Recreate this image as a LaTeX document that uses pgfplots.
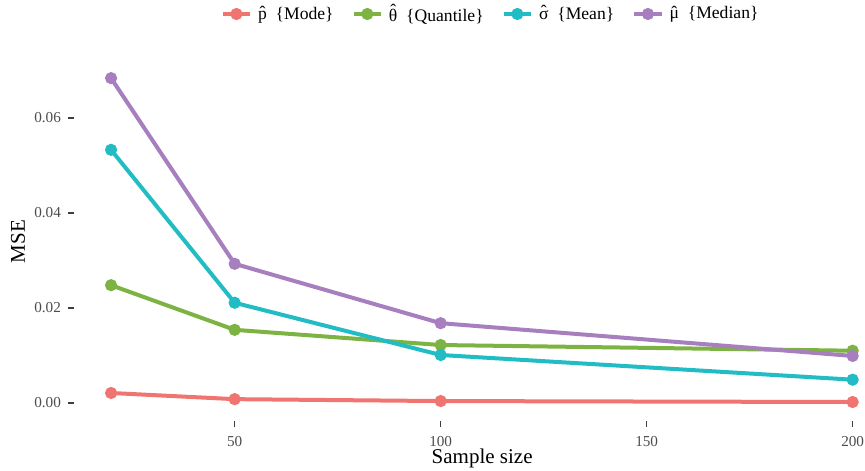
\documentclass[border=0pt]{standalone}
\usepackage{fontspec}
\setmainfont{Liberation Serif}
\usepackage{pgfplots}
\pgfplotsset{compat=1.18}
\definecolor{cMode}{HTML}{F07470}
\definecolor{cQuant}{HTML}{7CB342}
\definecolor{cMean}{HTML}{22BCC4}
\definecolor{cMed}{HTML}{A77FBF}
\definecolor{tickgray}{HTML}{4D4D4D}
\newcommand\hatt[1]{\leavevmode\vbox{\offinterlineskip\halign{\hfil##\hfil\cr ˆ\cr\noalign{\kern-0.42em}#1\cr}}}
\begin{document}
\begin{tikzpicture}
\begin{axis}[
  name=ax, at={(0,0)}, anchor=south west,
  scale only axis, width=395.5pt, height=179.5pt,
  xmin=11, xmax=203, ymin=-0.0038, ymax=0.0718,
  axis line style={draw=none},
  clip=false,
  xtick={50,100,150,200},
  ytick={0,0.02,0.04,0.06},
  yticklabel style={/pgf/number format/fixed,/pgf/number format/precision=2,/pgf/number format/fixed zerofill},
  xticklabel style={yshift=-1pt},
  /pgf/number format/assume math mode=true,
  scaled y ticks=false,
  tick align=outside, major tick length=3pt,
  tick style={line width=0.6pt, color=tickgray!80!black},
  xtick pos=bottom, ytick pos=left,
  ticklabel style={font=\fontsize{7.6}{9}\selectfont, text=tickgray},
  xlabel={Sample size}, ylabel={MSE},
  label style={font=\fontsize{10.5}{12}\selectfont},
  xlabel style={at={(axis description cs:0.516,0)}, anchor=center, yshift=-18.5pt},
  ylabel style={at={(axis description cs:0,0.5)}, anchor=center, yshift=28pt},
  every axis plot/.append style={line width=2pt, mark=*, mark size=2pt},
  legend columns=4,
  legend style={draw=none, fill=none, font=\fontsize{8.8}{10}\selectfont,
    at={(axis description cs:0.528,1)}, anchor=center, yshift=24pt,
    /tikz/every even column/.append style={column sep=7pt},
    /tikz/every odd column/.append style={column sep=1pt}},
  legend image code/.code={\draw[mark repeat=2,mark phase=2,#1] plot coordinates {(0cm,0cm) (0.24cm,0cm) (0.48cm,0cm)};},
]
\addplot[color=cMode, mark options={fill=cMode, draw=cMode}] coordinates {(20,0.0021) (50,0.0008) (100,0.0004) (200,0.0002)};
\addlegendentry{\hatt{p} \ \{Mode\}}
\addplot[color=cQuant, mark options={fill=cQuant, draw=cQuant}] coordinates {(20,0.0248) (50,0.0154) (100,0.0122) (200,0.0110)};
\addlegendentry{\hatt{θ} \ \{Quantile\}}
\addplot[color=cMean, mark options={fill=cMean, draw=cMean}] coordinates {(20,0.0533) (50,0.0211) (100,0.0101) (200,0.0049)};
\addlegendentry{\hatt{σ} \ \{Mean\}}
\addplot[color=cMed, mark options={fill=cMed, draw=cMed}] coordinates {(20,0.0684) (50,0.0293) (100,0.0168) (200,0.0099)};
\addlegendentry{\hatt{μ} \ \{Median\}}
\end{axis}
\pgfresetboundingbox
\path (-37pt,-24.5pt) rectangle (395.5pt,210.5pt);
\end{tikzpicture}
\end{document}
